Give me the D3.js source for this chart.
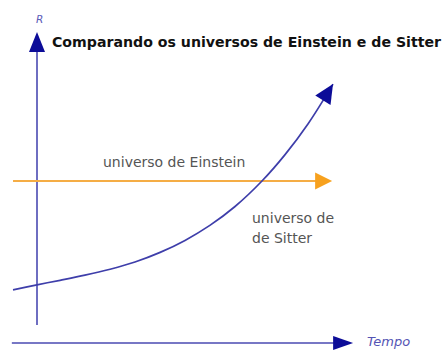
<!DOCTYPE html>
<html>
<head>
<meta charset="utf-8">
<script src="https://cdn.jsdelivr.net/npm/d3@7"></script>
<style>
  html, body { margin: 0; padding: 0; background: #ffffff; }
  svg { display: block; }
  text { font-family: "DejaVu Sans", Verdana, sans-serif; }
</style>
</head>
<body>
<svg id="chart" width="444" height="350"></svg>
<script>
// Time (t) and scale factor (R) of the de Sitter universe, in arbitrary units
const sitterTime = [-0.81, 0, 0.78, 1.62, 2.47, 3.31, 4.16, 5.0, 5.84, 6.69, 7.6, 8.38, 9.16, 10];
const sitterR    = [1.77, 1.94, 2.09, 2.26, 2.46, 2.70, 3.02, 3.42, 3.92, 4.55, 5.40, 6.28, 7.31, 8.63];

// Einstein's static universe: constant R over time
const einsteinTime = [-0.81, 9.97];
const einsteinR    = [5.4, 5.4];

// Extents of the two axes
const timeAxisExtent = [-0.85, 10.68];
const rAxisExtent    = [0.6, 10.37];

const titleText     = "Comparando os universos de Einstein e de Sitter";
const rLabel        = "R";
const timeLabel     = "Tempo";
const einsteinLabel = ["universo de Einstein"];
const sitterLabel   = ["universo de", "de Sitter"];

const svg = d3.select("#chart");

const x = d3.scaleLinear().domain([0, 10]).range([37, 333]);
const y = d3.scaleLinear().domain([0, 10]).range([343, 43]);

const axisStroke = "#4a4ab2";
const headBlue   = "#0c0c98";
const orange     = "#f7a11e";

// Filled triangular arrow head with its tip at (tx, ty) pointing along angle
function arrowHead(tx, ty, angle, len, halfW, fill) {
  const bx = tx - len * Math.cos(angle), by = ty - len * Math.sin(angle);
  const px = -Math.sin(angle) * halfW, py = Math.cos(angle) * halfW;
  svg.append("path")
    .attr("d", `M${tx},${ty}L${bx + px},${by + py}L${bx - px},${by - py}Z`)
    .attr("fill", fill);
}

// Vertical R axis
svg.append("line")
  .attr("x1", x(0)).attr("x2", x(0))
  .attr("y1", y(rAxisExtent[0])).attr("y2", y(rAxisExtent[1]) + 14)
  .attr("stroke", axisStroke).attr("stroke-width", 1.6);
arrowHead(x(0), y(rAxisExtent[1]), -Math.PI / 2, 20, 8, headBlue);

// Horizontal time axis
svg.append("line")
  .attr("x1", x(timeAxisExtent[0])).attr("x2", x(timeAxisExtent[1]) - 14)
  .attr("y1", y(0)).attr("y2", y(0))
  .attr("stroke", axisStroke).attr("stroke-width", 1.6);
arrowHead(x(timeAxisExtent[1]), y(0), 0, 20, 7, headBlue);

// Einstein static universe line
svg.append("line")
  .attr("x1", x(einsteinTime[0])).attr("x2", x(einsteinTime[1]) - 12)
  .attr("y1", y(einsteinR[0])).attr("y2", y(einsteinR[1]))
  .attr("stroke", "#f5ad45").attr("stroke-width", 2);
arrowHead(x(einsteinTime[1]), y(einsteinR[1]), 0, 17, 8.5, orange);

// de Sitter expansion curve, smooth through the points, ending under its arrow head
const sitter = sitterTime.map((t, i) => [t, sitterR[i]]);
const line = d3.line().x(d => x(d[0])).y(d => y(d[1])).curve(d3.curveCatmullRom.alpha(0.5));
const n = sitter.length;
const tip = [x(sitter[n - 1][0]), y(sitter[n - 1][1])];
const prev = [x(sitter[n - 2][0]), y(sitter[n - 2][1])];
const ang = Math.atan2(tip[1] - prev[1], tip[0] - prev[0]);
svg.append("path")
  .attr("d", line(sitter))
  .attr("fill", "none")
  .attr("stroke", "#3e3eaa").attr("stroke-width", 1.7);
arrowHead(tip[0], tip[1], ang, 19, 9, headBlue);

// Labels
svg.append("text")
  .attr("x", 52).attr("y", 47)
  .attr("font-size", 13.5).attr("font-weight", "bold")
  .attr("fill", "#111")
  .attr("textLength", 389).attr("lengthAdjust", "spacingAndGlyphs")
  .text(titleText);

svg.append("text")
  .attr("x", 36).attr("y", 23)
  .attr("font-size", 10.5).attr("font-style", "italic")
  .attr("fill", "#5c5cb8")
  .text(rLabel);

svg.append("text")
  .attr("x", 367).attr("y", 346)
  .attr("font-size", 13).attr("font-style", "italic")
  .attr("fill", "#5454b4")
  .text(timeLabel);

svg.append("text")
  .attr("x", 103).attr("y", 167)
  .attr("font-size", 14)
  .attr("fill", "#555")
  .text(einsteinLabel[0]);

svg.selectAll("text.sitter")
  .data(sitterLabel)
  .enter().append("text")
  .attr("class", "sitter")
  .attr("x", 252).attr("y", (d, i) => 223 + i * 20)
  .attr("font-size", 14)
  .attr("fill", "#555")
  .text(d => d);
</script>
</body>
</html>
